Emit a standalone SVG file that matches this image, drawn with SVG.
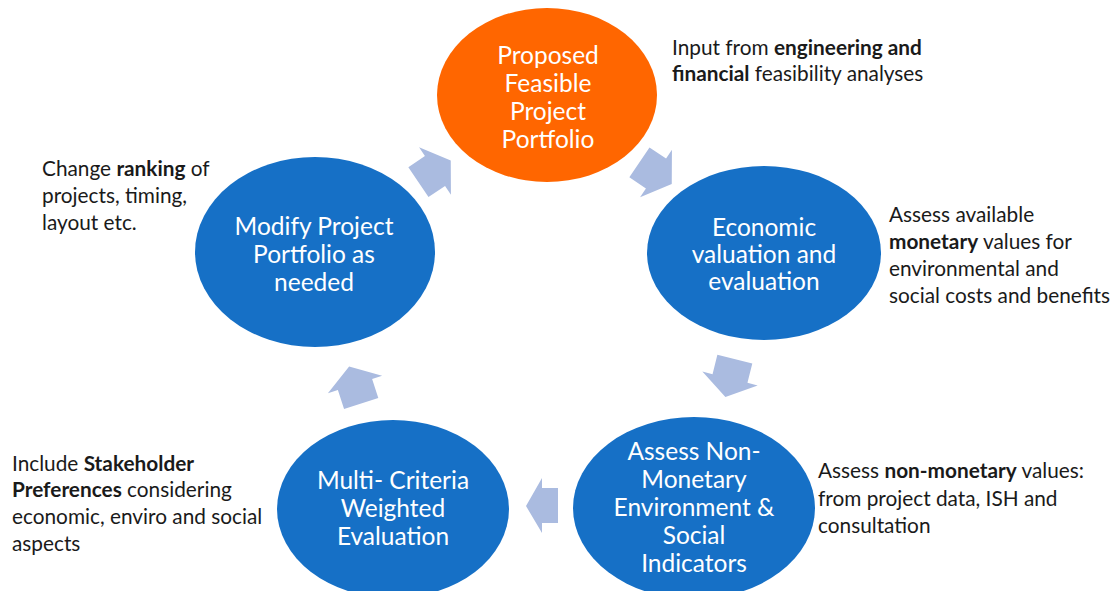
<svg xmlns="http://www.w3.org/2000/svg" width="1117" height="591" viewBox="0 0 1117 591">
<style>
.node-o{fill:#FF6600}
.node-b{fill:#1670C6}
.nt{font-family:Lato,"Liberation Sans",sans-serif;font-size:24.5px;fill:#ffffff;text-anchor:middle}
.an{font-family:Lato,"Liberation Sans",sans-serif;font-size:20.8px;fill:#1a1a1a}
.b{font-weight:bold}
.arr{fill:#AABBE0}
</style>
<defs>
<polygon id="blk" points="-20,-18 0,-18 0,-28.5 19,0 0,28.5 0,18 -20,18"/>
</defs>
<rect width="1117" height="591" fill="#ffffff"/>
<g id="connectors">
<use href="#blk" class="arr" transform="translate(435,171) rotate(-34)"/>
<use href="#blk" class="arr" transform="translate(656,173.5) rotate(34)"/>
<use href="#blk" class="arr" transform="translate(730,378.5) rotate(104)"/>
<polygon class="arr" points="558,488 542,488 542,478 526,506 542,533 542,523 558,523"/>
<use href="#blk" class="arr" transform="translate(355,384.5) rotate(-108)"/>
</g>
<g id="node-proposed">
<ellipse class="node-o" cx="547" cy="95" rx="110" ry="87"/>
<text class="nt"><tspan x="548" y="64">Proposed</tspan><tspan x="548" y="92">Feasible</tspan><tspan x="548" y="120">Project</tspan><tspan x="548" y="148">Portfolio</tspan></text>
</g>
<g id="node-economic">
<ellipse class="node-b" cx="764" cy="253" rx="117" ry="87"/>
<text class="nt"><tspan x="764" y="236">Economic</tspan><tspan x="764" y="263">valuation and</tspan><tspan x="764" y="290">evaluation</tspan></text>
</g>
<g id="node-assess">
<ellipse class="node-b" cx="694" cy="508" rx="121" ry="91"/>
<text class="nt"><tspan x="694" y="460">Assess Non-</tspan><tspan x="694" y="488">Monetary</tspan><tspan x="694" y="516">Environment &amp;</tspan><tspan x="694" y="544">Social</tspan><tspan x="694" y="572">Indicators</tspan></text>
</g>
<g id="node-multi">
<ellipse class="node-b" cx="393" cy="509" rx="116" ry="89"/>
<text class="nt"><tspan x="393" y="489">Multi- Criteria</tspan><tspan x="393" y="517">Weighted</tspan><tspan x="393" y="545">Evaluation</tspan></text>
</g>
<g id="node-modify">
<ellipse class="node-b" cx="315" cy="252" rx="120" ry="95"/>
<text class="nt"><tspan x="314" y="235">Modify Project</tspan><tspan x="314" y="263">Portfolio as</tspan><tspan x="314" y="291">needed</tspan></text>
</g>
<g id="annotations">
<text class="an"><tspan x="672" y="55">Input from <tspan class="b">engineering and</tspan></tspan><tspan x="672" y="81"><tspan class="b">financial</tspan> feasibility analyses</tspan></text>
<text class="an"><tspan x="889" y="222">Assess available</tspan><tspan x="889" y="249"><tspan class="b">monetary</tspan> values for</tspan><tspan x="889" y="276">environmental and</tspan><tspan x="889" y="303">social costs and benefits</tspan></text>
<text class="an"><tspan x="42" y="176">Change <tspan class="b">ranking</tspan> of</tspan><tspan x="42" y="203">projects, timing,</tspan><tspan x="42" y="230">layout etc.</tspan></text>
<text class="an"><tspan x="12" y="471">Include <tspan class="b">Stakeholder</tspan></tspan><tspan x="12" y="497"><tspan class="b">Preferences</tspan> considering</tspan><tspan x="12" y="524">economic, enviro and social</tspan><tspan x="12" y="551">aspects</tspan></text>
<text class="an"><tspan x="818" y="478">Assess <tspan class="b">non-monetary</tspan> values:</tspan><tspan x="818" y="506">from project data, ISH and</tspan><tspan x="818" y="533">consultation</tspan></text>
</g>
</svg>
